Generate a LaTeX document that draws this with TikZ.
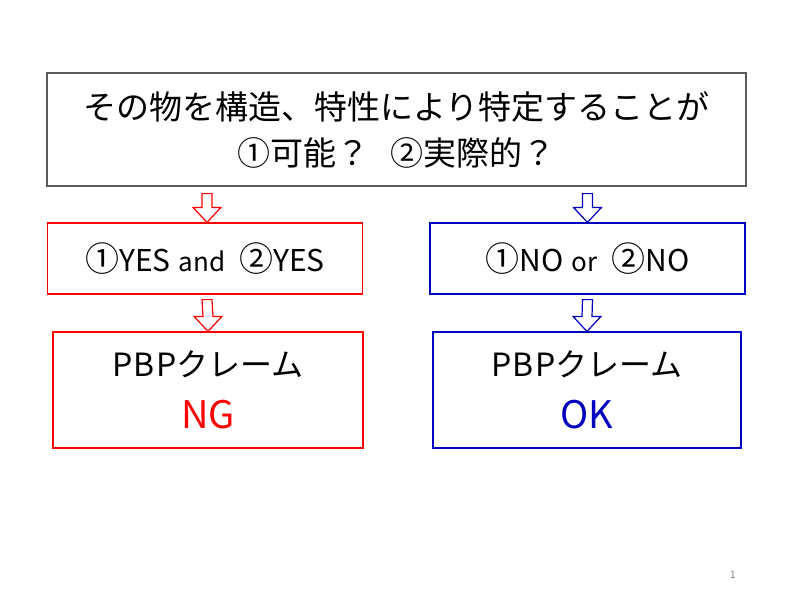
\documentclass[tikz,border=0pt]{standalone}
\usepackage{fontspec}
\setmainfont{Noto Sans CJK JP}
\usetikzlibrary{calc}
\definecolor{ngred}{RGB}{255,0,0}
\definecolor{okblue}{RGB}{0,0,190}
\definecolor{framegray}{RGB}{90,90,90}
\newcommand{\hollowarrow}[3]{%
	\draw[#1,line width=1.2pt] ($(#2)+(-5,0)$) -- ($(#2)+(5,0)$) -- ($(#3)+(5,-15)$) -- ($(#3)+(14,-15)$)
		-- (#3) -- ($(#3)+(-14,-15)$) -- ($(#3)+(-5,-15)$) -- cycle;}
\newcommand{\circnum}[1]{{\fontsize{34}{34}\selectfont #1}}
\newcommand{\joinword}[1]{\hspace{8pt}{\fontsize{26}{30}\selectfont #1}\hspace{14pt}}
\newcommand{\widelatin}[1]{{\addfontfeature{LetterSpace=5}#1}}
\tikzset{
	box/.style={draw,line width=1.2pt,inner sep=0pt,align=center},
	answer/.style={box,minimum width=315,minimum height=71,font=\fontsize{30}{34}\selectfont},
	verdict/.style={box,minimum height=116,font=\fontsize{32}{52}\selectfont}
}

\begin{document}
\begin{tikzpicture}[x=1pt,y=-1pt]
			\useasboundingbox[fill=white] (0,0) rectangle (800,600);

			\node[box,draw=framegray,minimum width=699,minimum height=113,font=\fontsize{33}{46}\selectfont]
				(question) at (396.5,129.5) {その物を構造、特性により特定することが\\①可能？\hspace{22pt}②実際的？};

			\node[answer,draw=ngred] (yes) at (205,258.5) {\circnum{①}YES\joinword{and}\circnum{②}YES};
			\node[answer,draw=okblue] (no) at (587.5,258.5) {\circnum{①}NO\joinword{or}\circnum{②}NO};

			\node[verdict,draw=ngred,minimum width=310] (ng) at (208,390)
				{\widelatin{PBP}クレーム\\{\fontsize{38}{52}\selectfont\color{ngred}NG}};
			\node[verdict,draw=okblue,minimum width=308] (ok) at (587,390)
				{\widelatin{PBP}クレーム\\{\fontsize{38}{52}\selectfont\color{okblue}OK}};

			\coordinate (ya) at ($(question.south -| yes.north)+(2,7)$);
			\coordinate (na) at ($(question.south -| no.north)+(0,7)$);
			\coordinate (ga) at ($(yes.south)+(2,5)$);
			\coordinate (ka) at ($(no.south)+(0,5)$);
			\hollowarrow{ngred}{ya}{$(yes.north)+(2,0)$}
			\hollowarrow{okblue}{na}{no.north}
			\hollowarrow{ngred}{ga}{ng.north}
			\hollowarrow{okblue}{ka}{ok.north}

			\node[text=gray,font=\fontsize{10}{12}\selectfont] (pagenum) at (733,575) {1};
\end{tikzpicture}
\end{document}
